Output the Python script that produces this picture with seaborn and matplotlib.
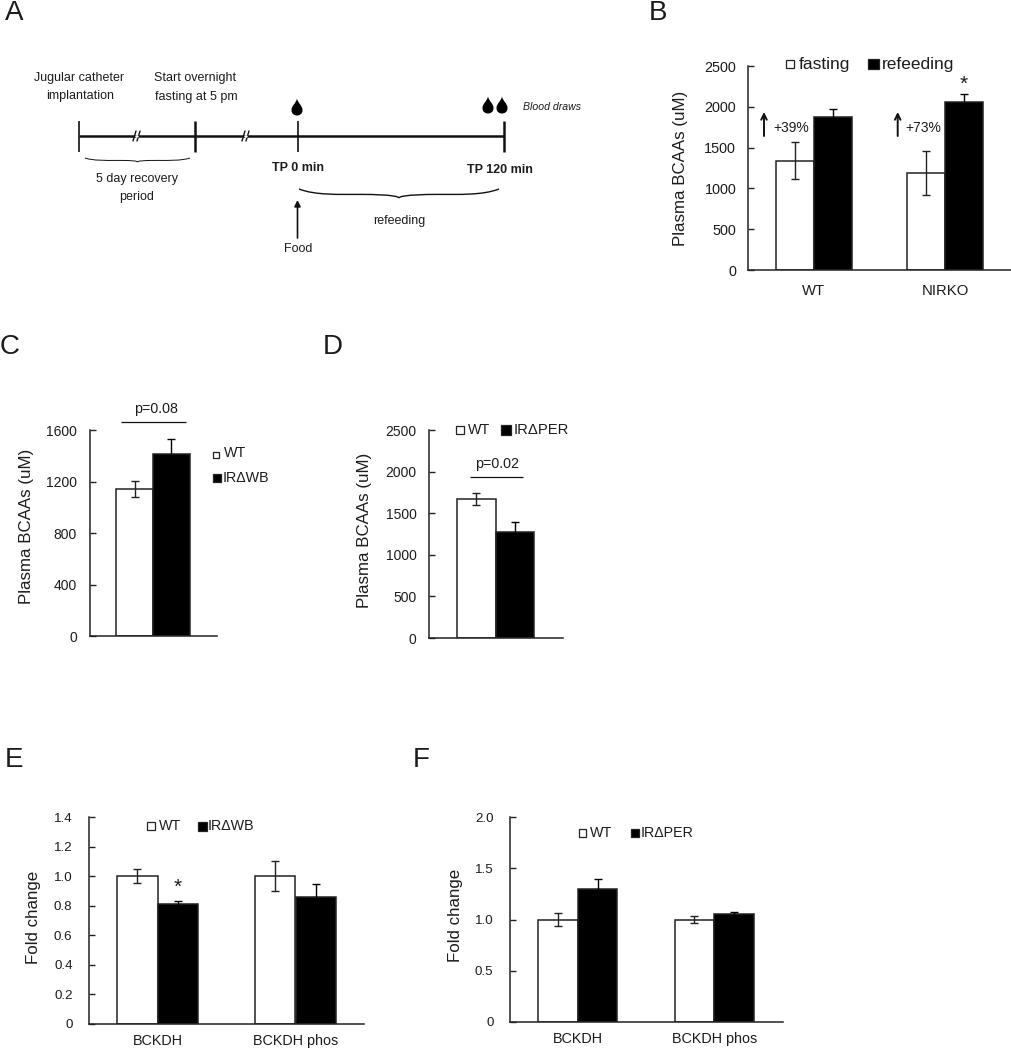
import pandas as pd
import matplotlib
matplotlib.use('Agg')
import matplotlib.pyplot as plt
from matplotlib.path import Path
from matplotlib.patches import PathPatch, Rectangle
import seaborn as sns

# Values
b_groups = ['WT', 'NIRKO']
b_fasting = [1340, 1190]
b_refeeding = [1870, 2060]
b_fasting_err = [230, 270]
b_refeeding_err = [100, 100]

c_groups = ['']
c_wt = [1140]
c_ir = [1410]
c_wt_err = [62]
c_ir_err = [118]

d_groups = ['']
d_wt = [1670]
d_ir = [1270]
d_wt_err = [70]
d_ir_err = [120]

e_groups = ['BCKDH', 'BCKDH phos']
e_wt = [1.0, 1.0]
e_ir = [0.81, 0.86]
e_wt_err = [0.045, 0.10]
e_ir_err = [0.025, 0.09]

f_groups = ['BCKDH', 'BCKDH phos']
f_wt = [1.0, 1.0]
f_ir = [1.3, 1.05]
f_wt_err = [0.06, 0.03]
f_ir_err = [0.10, 0.02]

W, H = 1011, 1050
INK = '#1c1c1c'

sns.set_style('ticks')
plt.rcParams['font.family'] = ['Liberation Sans', 'DejaVu Sans']
plt.rcParams['text.color'] = INK
plt.rcParams['axes.labelcolor'] = INK
plt.rcParams['xtick.labelcolor'] = INK
plt.rcParams['ytick.labelcolor'] = INK

fig = plt.figure(figsize=(W / 100, H / 100), dpi=100)


def bar_panel(box, groups, first, second, first_err, second_err, ymax, yticks, yticklabels,
              ylabel, ylabel_x, ylabel_y, tick_pad, xpad=9, ysize=10.4, xsize=10.7):
    # box is left, right, bottom, top in picture pixels
    left, right, bottom, top = box
    ax = fig.add_axes([left / W, 1 - bottom / H, (right - left) / W, (bottom - top) / H])
    df = pd.DataFrame({
        'group': list(groups) * 2,
        'series': ['a'] * len(groups) + ['b'] * len(groups),
        'value': list(first) + list(second),
    })
    sns.barplot(data=df, x='group', y='value', hue='series', palette={'a': 'white', 'b': 'black'},
                width=0.58, gap=0, edgecolor='#222222', linewidth=1.1, errorbar=None, legend=False, ax=ax)
    # the lower half on a black bar should not show, so those caps are pure black
    for container, errs, col in zip(ax.containers, [first_err, second_err], ['#222222', 'black']):
        for patch, err in zip(container.patches, errs):
            ax.errorbar(patch.get_x() + patch.get_width() / 2, patch.get_height(), yerr=err,
                        color=col, elinewidth=1, capsize=2.6, capthick=1, zorder=5)
    ax.set_xlim(-0.5, len(groups) - 0.5)
    ax.set_ylim(0, ymax)
    ax.set_yticks(yticks)
    ax.set_yticklabels(yticklabels)
    ax.tick_params(axis='y', direction='in', length=4, width=1, pad=tick_pad, labelsize=ysize, color='#222222')
    ax.tick_params(axis='x', length=0, pad=xpad, labelsize=xsize)
    ax.set_xlabel('')
    ax.set_ylabel(ylabel, fontsize=12.2, labelpad=0, va='center')
    ax.yaxis.set_label_coords((ylabel_x - left) / (right - left), (bottom - ylabel_y) / (bottom - top))
    sns.despine(ax=ax)
    for side in ['left', 'bottom']:
        ax.spines[side].set_linewidth(1.1)
        ax.spines[side].set_color('#222222')
    return ax


bcaa_label = 'Plasma BCAAs (uM)'

bar_panel((748, 1011, 270, 66), b_groups, b_fasting, b_refeeding, b_fasting_err, b_refeeding_err,
          2500, [0, 500, 1000, 1500, 2000, 2500], ['0', '500', '1000', '1500', '2000', '2500'],
          bcaa_label, 680, 168, 8.5, xpad=10)
bar_panel((89.5, 216.5, 636, 430), c_groups, c_wt, c_ir, c_wt_err, c_ir_err,
          1600, [0, 400, 800, 1200, 1600], ['0', '400', '800', '1200', '1600'],
          bcaa_label, 26, 526, 9, ysize=10)
bar_panel((429, 562.5, 638, 430), d_groups, d_wt, d_ir, d_wt_err, d_ir_err,
          2500, [0, 500, 1000, 1500, 2000, 2500], ['0', '500', '1000', '1500', '2000', '2500'],
          bcaa_label, 364.5, 530, 9, ysize=10)
bar_panel((88.5, 364.5, 1024, 817), e_groups, e_wt, e_ir, e_wt_err, e_ir_err,
          1.4, [0, 0.2, 0.4, 0.6, 0.8, 1.0, 1.2, 1.4], ['0', '0.2', '0.4', '0.6', '0.8', '1.0', '1.2', '1.4'],
          'Fold change', 33, 917, 11.5, xpad=7, ysize=9.6, xsize=10.4)
bar_panel((509.5, 782.5, 1022, 817), f_groups, f_wt, f_ir, f_wt_err, f_ir_err,
          2.0, [0, 0.5, 1.0, 1.5, 2.0], ['0', '0.5', '1.0', '1.5', '2.0'],
          'Fold change', 455.5, 915, 11.5, xpad=7, ysize=9.6, xsize=10.4)

# Overlay in picture pixels for the schematic, legends and notes
ov = fig.add_axes([0, 0, 1, 1], zorder=10)
ov.set_xlim(0, W)
ov.set_ylim(H, 0)
ov.axis('off')
ov.patch.set_alpha(0)


def txt(x, y, s, size=10.3, ha='center', **kw):
    ov.text(x, y, s, fontsize=size, ha=ha, va='center', **kw)


def swatch(x0, x1, y, color):
    h = x1 - x0
    ov.add_patch(Rectangle((x0, y - h / 2), h, h, facecolor=color, edgecolor='#222222', linewidth=0.9))


def line(xs, ys, lw=1.0):
    ov.plot(xs, ys, color='#111111', linewidth=lw, solid_capstyle='butt')


def arrow(x, y0, y1, lw=1.2, head=9, style='-|>'):
    ov.annotate('', xy=(x, y1), xytext=(x, y0),
                arrowprops=dict(arrowstyle=style, color='#111111', lw=lw, mutation_scale=head,
                                shrinkA=0, shrinkB=0))


# panel letters
for x, y, s in [(14, 13, 'A'), (658, 13, 'B'), (10, 347, 'C'), (333, 347, 'D'), (14, 760, 'E'), (421, 760, 'F')]:
    txt(x, y, s, size=20)

# A: timeline
line([79, 504], [136, 136], lw=1.8)
for x, w in [(79, 1.2), (195, 1.8), (297.5, 1.2), (504, 1.8)]:
    line([x, x], [121, 152], lw=w)
for x in [137, 246]:
    ov.plot([x - 4, x - 1], [141, 131], color='#111111', linewidth=1)
    ov.plot([x, x + 3], [141, 131], color='#111111', linewidth=1)
    ov.plot([x - 1.2, x], [136, 136], color='white', linewidth=1.8)

txt(79, 78, 'Jugular catheter', size=9)
txt(80, 96, 'implantation', size=9)
txt(195, 78, 'Start overnight', size=9)
txt(196, 97, 'fasting at 5 pm', size=9)
txt(137, 179, '5 day recovery', size=9)
txt(137, 197, 'period', size=9)
txt(298, 168, 'TP 0 min', size=9, fontweight='bold')
txt(500, 170, 'TP 120 min', size=9, fontweight='bold')
txt(399, 221, 'refeeding', size=9)
txt(298, 249, 'Food', size=9)
txt(552, 107, 'Blood draws', size=7.6, style='italic')
arrow(297.5, 238, 200)


def brace(x0, x1, y0, y1, lw):
    xm = (x0 + x1) / 2
    d = (x1 - x0) * 0.2
    verts = [(x0, y0), (x0 + d * 0.4, y0 + (y1 - y0) * 0.7), (x0 + d, y0 + (y1 - y0) * 0.6), (xm - d, y0 + (y1 - y0) * 0.6),
             (xm - 4, y0 + (y1 - y0) * 0.6), (xm, y1 - 1), (xm, y1),
             (xm, y1 - 1), (xm + 4, y0 + (y1 - y0) * 0.6), (xm + d, y0 + (y1 - y0) * 0.6),
             (x1 - d, y0 + (y1 - y0) * 0.6), (x1 - d * 0.4, y0 + (y1 - y0) * 0.7), (x1, y0)]
    codes = [Path.MOVETO] + [Path.CURVE4] * 12
    ov.add_patch(PathPatch(Path(verts, codes), fill=False, edgecolor='#111111', linewidth=lw))


brace(85, 190, 158, 162, 0.7)
brace(299, 499, 189, 198, 1.0)


def drop(x, y, h=17, w=5.5):
    top, bot = y - h / 2, y + h / 2
    verts = [(x, top), (x + 1, top + h * 0.3), (x + w, top + h * 0.4), (x + w, top + h * 0.68),
             (x + w, bot - 1), (x + 2, bot), (x, bot),
             (x - 2, bot), (x - w, bot - 1), (x - w, top + h * 0.68),
             (x - w, top + h * 0.4), (x - 1, top + h * 0.3), (x, top), (x, top)]
    codes = [Path.MOVETO] + [Path.CURVE4] * 12 + [Path.CLOSEPOLY]
    ov.add_patch(PathPatch(Path(verts, codes), facecolor='black', edgecolor='none'))


drop(297, 107)
drop(488, 105)
drop(502, 105)

# B: legend and notes
swatch(785.5, 793.5, 64, 'white')
txt(799, 64, 'fasting', size=12.5, ha='left')
swatch(868, 878.5, 64, 'black')
txt(881.5, 64, 'refeeding', size=12.5, ha='left')
txt(791, 128, '+39%', size=10)
txt(923, 128, '+73%', size=10)
arrow(764, 136, 112, lw=1.4, head=10, style='->')
arrow(897.7, 136, 112, lw=1.4, head=10, style='->')
txt(964, 84, '*', size=15)

# C
swatch(212.5, 219, 455, 'white')
txt(224, 453, 'WT', size=10.3, ha='left')
swatch(212.5, 221, 478, 'black')
txt(223, 478, 'IR\u0394WB', size=10.3, ha='left')
txt(156, 409, 'p=0.08', size=10.3)
line([121, 186], [422, 422], lw=0.9)

# D
swatch(455.5, 463.5, 430, 'white')
txt(467.5, 430, 'WT', size=10.3, ha='left')
swatch(501, 510.5, 430, 'black')
txt(513.5, 430, 'IR\u0394PER', size=10.6, ha='left')
txt(497, 464, 'p=0.02', size=10.3)
line([470, 523], [477, 477], lw=0.9)

# E
swatch(147, 155, 826, 'white')
txt(158.5, 826, 'WT', size=10.3, ha='left')
swatch(197.5, 206.5, 826, 'black')
txt(207.5, 826, 'IR\u0394WB', size=10.3, ha='left')
txt(178, 887, '*', size=15)

# F
swatch(578.5, 586, 833, 'white')
txt(590, 833, 'WT', size=10.3, ha='left')
swatch(631, 639, 833, 'black')
txt(641, 833, 'IR\u0394PER', size=10.3, ha='left')

fig.savefig('out.png', dpi=100)
plt.close(fig)
